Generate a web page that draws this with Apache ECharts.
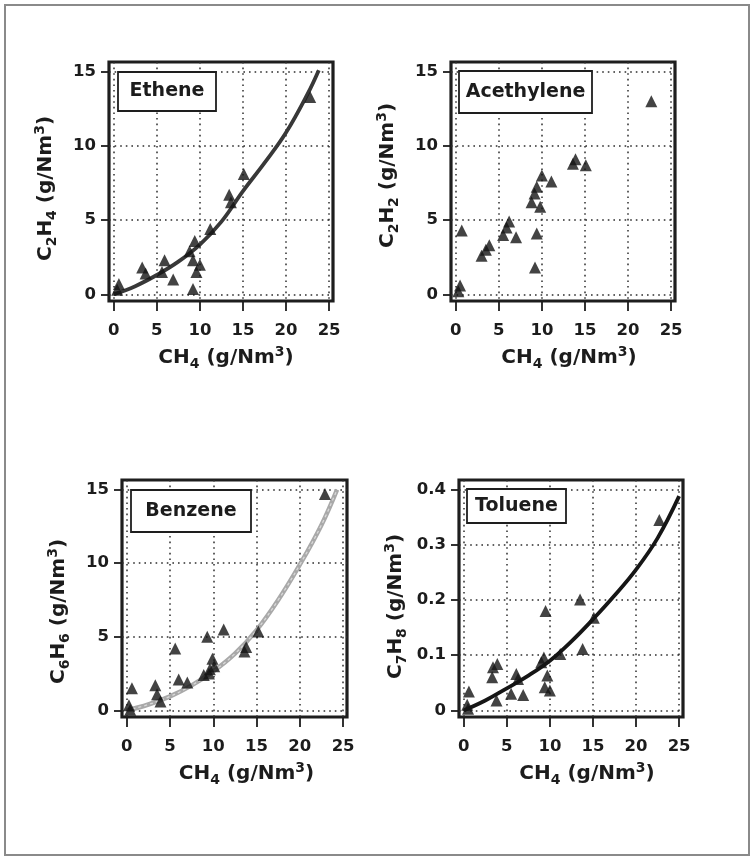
<!DOCTYPE html>
<html><head><meta charset="utf-8">
<script src="https://cdn.jsdelivr.net/npm/echarts@6/dist/echarts.min.js"></script>
<style>html,body{margin:0;padding:0;background:#fff}#c{width:753px;height:860px}</style>
</head><body><div id="c"></div>
<script>
// ---------- tick values ----------
const xTicks = [0, 5, 10, 15, 20, 25];
const yTicks15 = [0, 5, 10, 15];
const yTicksTol = [0, 0.1, 0.2, 0.3, 0.4];

// ---------- Ethene ----------
const ethX = [0.4, 0.6, 3.3, 3.7, 5.6, 5.9, 6.9, 8.8, 9.2, 9.2, 9.4, 9.6, 10.0, 11.2, 13.4, 13.6, 15.1, 22.8];
const ethY = [0.3, 0.7, 1.8, 1.4, 1.5, 2.3, 1.0, 2.9, 2.3, 0.35, 3.6, 1.5, 2.0, 4.4, 6.7, 6.2, 8.1, 13.3];
const ethCurveX = [0, 2.5, 5, 7.5, 10, 12.5, 15, 17.5, 20, 22.5, 23.8];
const ethCurveY = [0, 0.55, 1.3, 2.2, 3.35, 4.9, 6.95, 8.85, 10.9, 13.5, 15.1];

// ---------- Acethylene ----------
const acX = [0.3, 0.5, 0.7, 3.0, 3.5, 3.9, 5.5, 5.9, 6.2, 7.0, 8.8, 9.15, 9.4, 9.2, 9.4, 9.8, 10.0, 11.1, 13.6, 13.9, 15.1, 22.7];
const acY = [0.2, 0.6, 4.3, 2.6, 3.0, 3.3, 4.0, 4.5, 4.9, 3.85, 6.2, 6.8, 7.25, 1.8, 4.1, 5.9, 8.0, 7.6, 8.8, 9.1, 8.7, 13.0];

// ---------- Benzene ----------
const bzX = [0.25, 0.4, 0.6, 3.3, 3.5, 3.9, 5.6, 6.0, 7.0, 8.9, 9.3, 9.5, 9.6, 9.9, 10.1, 11.2, 13.6, 13.8, 15.2, 22.9];
const bzY = [0.35, 0.05, 1.5, 1.7, 1.1, 0.6, 4.2, 2.1, 1.9, 2.4, 5.0, 2.5, 2.8, 3.5, 3.0, 5.5, 4.0, 4.3, 5.35, 14.7];
const bzCurveX = [0, 2.5, 5, 7.5, 10, 12.5, 15, 17.5, 20, 22.5, 24.3];
const bzCurveY = [0, 0.4, 0.95, 1.7, 2.65, 3.85, 5.45, 7.5, 9.9, 12.6, 15.0];

// ---------- Toluene ----------
const tlX = [0.4, 0.5, 0.6, 3.3, 3.4, 3.9, 3.8, 5.5, 6.1, 6.3, 6.9, 9.0, 9.3, 9.5, 9.7, 9.4, 10.0, 11.2, 13.5, 13.8, 15.1, 22.7];
const tlY = [0.01, 0.003, 0.034, 0.06, 0.078, 0.084, 0.018, 0.03, 0.066, 0.057, 0.028, 0.087, 0.096, 0.18, 0.063, 0.042, 0.036, 0.102, 0.201, 0.111, 0.168, 0.345];
const tlCurveX = [0, 2.5, 5, 7.5, 10, 12.5, 15, 17.5, 20, 22.5, 25];
const tlCurveY = [0, 0.018, 0.04, 0.063, 0.09, 0.125, 0.165, 0.208, 0.255, 0.312, 0.388];

// ---------- texts ----------
const panelLabels = ['Ethene', 'Acethylene', 'Benzene', 'Toluene'];
const yNames = [
  '{b|C}{s|2}{b|H}{s|4}{b| (g/Nm}{p|3}{b|)}',
  '{b|C}{s|2}{b|H}{s|2}{b| (g/Nm}{p|3}{b|)}',
  '{b|C}{s|6}{b|H}{s|6}{b| (g/Nm}{p|3}{b|)}',
  '{b|C}{s|7}{b|H}{s|8}{b| (g/Nm}{p|3}{b|)}'
];
const xName = '{b|CH}{s|4}{b| (g/Nm}{p|3}{b|)}';

const F = '"DejaVu Sans", sans-serif';
const INK = '#1c1c1c';
const rich = {
  b: {fontFamily: F, fontWeight: 'bold', fontSize: 20, color: INK, lineHeight: 26},
  s: {fontFamily: F, fontWeight: 'bold', fontSize: 14, color: INK, lineHeight: 14, verticalAlign: 'bottom'},
  p: {fontFamily: F, fontWeight: 'bold', fontSize: 14, color: INK, lineHeight: 14, verticalAlign: 'top'}
};

const pairs = (xs, ys) => xs.map((x, k) => [x, ys[k]]);

const panels = [
  {grid: [109, 62, 224, 239], yr: [-0.45, 15.65], yt: yTicks15, box: [118, 72, 98, 39],
   pts: pairs(ethX, ethY), curve: pairs(ethCurveX, ethCurveY), curveStyle: 'dark', xdx: 5, ydy: 7},
  {grid: [451, 62, 224, 239], yr: [-0.45, 15.65], yt: yTicks15, box: [459, 71, 133, 42],
   pts: pairs(acX, acY), curve: null, xdx: 6, ydy: -6},
  {grid: [122, 480, 225, 237], yr: [-0.45, 15.65], yt: yTicks15, box: [131, 490, 120, 42],
   pts: pairs(bzX, bzY), curve: pairs(bzCurveX, bzCurveY), curveStyle: 'light', xdx: 12, ydy: 13},
  {grid: [459, 480, 224, 237], yr: [-0.012, 0.4173], yt: yTicksTol, box: [467, 489, 99, 34],
   pts: pairs(tlX, tlY), curve: pairs(tlCurveX, tlCurveY), curveStyle: 'black', xdx: 16, ydy: 8}
];

const option = {animation: false, backgroundColor: '#fff', grid: [], xAxis: [], yAxis: [], series: [], graphic: []};

panels.forEach((p, i) => {
  option.grid.push({left: p.grid[0], top: p.grid[1], width: p.grid[2], height: p.grid[3],
    show: true, borderColor: '#1e1e1e', borderWidth: 3.2, backgroundColor: 'transparent',
    containLabel: false, outerBoundsMode: 'none'});
  const split = {show: true, lineStyle: {color: '#2e2e2e', width: 1.5, type: [1.6, 4]}};
  option.xAxis.push({type: 'value', gridIndex: i, min: -0.55, max: 25.45, position: 'bottom',
    axisLine: {show: false, onZero: false},
    axisTick: {show: true, inside: false, length: 10, customValues: xTicks, lineStyle: {color: INK, width: 1.8}},
    axisLabel: {customValues: xTicks, margin: 21, fontFamily: F, fontWeight: 'bold', fontSize: 16.5, color: INK},
    splitLine: split,
    name: xName, nameLocation: 'middle', nameGap: 44,
    nameTextStyle: {rich: rich, padding: [0, 0, 0, 2 * p.xdx]}});
  option.yAxis.push({type: 'value', gridIndex: i, min: p.yr[0], max: p.yr[1], position: 'left',
    axisLine: {show: false, onZero: false},
    axisTick: {show: true, inside: false, length: 8, customValues: p.yt, lineStyle: {color: INK, width: 1.8}},
    axisLabel: {customValues: p.yt, margin: 13, fontFamily: F, fontWeight: 'bold', fontSize: 16.5, color: INK},
    splitLine: split,
    name: yNames[i], nameLocation: 'middle', nameRotate: 90, nameGap: 50,
    nameTextStyle: {rich: rich, padding: p.ydy > 0 ? [0, 2 * p.ydy, 0, 0] : [0, 0, 0, -2 * p.ydy]}});
  if (p.curve) {
    const st = p.curveStyle;
    option.series.push({type: 'line', xAxisIndex: i, yAxisIndex: i, data: p.curve, smooth: 0.4,
      showSymbol: false, symbol: 'none', z: 2, clip: false,
      lineStyle: {color: st === 'light' ? '#a9a9a9' : (st === 'dark' ? '#383838' : '#161616'), width: st === 'light' ? 4.5 : 3.8}});
    if (st === 'light') {
      option.series.push({type: 'line', xAxisIndex: i, yAxisIndex: i, data: p.curve, smooth: 0.4,
        showSymbol: false, symbol: 'none', z: 2, clip: false,
        lineStyle: {color: '#d9d9d9', width: 1.3, type: [3, 3]}});
    }
  }
  option.series.push({type: 'scatter', xAxisIndex: i, yAxisIndex: i, data: p.pts,
    symbol: 'triangle', symbolSize: [12, 12], z: 3, itemStyle: {color: '#141414'}});
  const b = p.box;
  option.graphic.push({type: 'rect', z: 10, shape: {x: b[0], y: b[1], width: b[2], height: b[3]},
    style: {fill: '#fff', stroke: '#1e1e1e', lineWidth: 1.8}});
  option.graphic.push({type: 'text', z: 11, style: {text: panelLabels[i], x: b[0] + b[2] / 2, y: b[1] + b[3] / 2,
    align: 'center', verticalAlign: 'middle', fontFamily: F, fontWeight: 'bold', fontSize: 19, fill: INK}});
});

option.graphic.push({type: 'rect', z: 10, shape: {x: 5, y: 5, width: 744, height: 850},
  style: {fill: 'none', stroke: '#8a8a8a', lineWidth: 2}});

const chart = echarts.init(document.getElementById('c'), null, {renderer: 'canvas'});
chart.setOption(option);
</script>
</body></html>
